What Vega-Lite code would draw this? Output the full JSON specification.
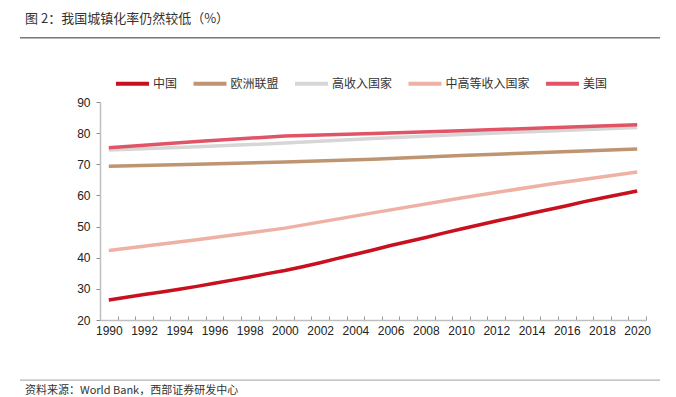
{
  "$schema": "https://vega.github.io/schema/vega-lite/v6.json",
  "autosize": {"type": "none"},
  "padding": {"left": 100, "top": 102, "right": 30, "bottom": 77},
  "width": 546,
  "height": 218,
  "background": "white",
  "config": {
    "view": {"stroke": null},
    "font": "Liberation Sans"
  },
  "title": {
    "text": "图 2：我国城镇化率仍然较低（%）",
    "anchor": "start",
    "frame": "group",
    "dx": -75,
    "offset": 11,
    "font": "Noto Sans CJK SC",
    "fontSize": 13,
    "fontWeight": "normal",
    "color": "#333333"
  },
  "datasets": {
    "series": [
      {"name": "中国", "year": 1990, "value": 26.4},
      {"name": "中国", "year": 1991, "value": 27.3},
      {"name": "中国", "year": 1992, "value": 28.2},
      {"name": "中国", "year": 1993, "value": 29.0},
      {"name": "中国", "year": 1994, "value": 29.9},
      {"name": "中国", "year": 1995, "value": 30.8},
      {"name": "中国", "year": 1996, "value": 31.8},
      {"name": "中国", "year": 1997, "value": 32.8},
      {"name": "中国", "year": 1998, "value": 33.8},
      {"name": "中国", "year": 1999, "value": 34.9},
      {"name": "中国", "year": 2000, "value": 35.9},
      {"name": "中国", "year": 2001, "value": 37.1},
      {"name": "中国", "year": 2002, "value": 38.4},
      {"name": "中国", "year": 2003, "value": 39.8},
      {"name": "中国", "year": 2004, "value": 41.1},
      {"name": "中国", "year": 2005, "value": 42.5},
      {"name": "中国", "year": 2006, "value": 43.9},
      {"name": "中国", "year": 2007, "value": 45.2},
      {"name": "中国", "year": 2008, "value": 46.5},
      {"name": "中国", "year": 2009, "value": 47.9},
      {"name": "中国", "year": 2010, "value": 49.2},
      {"name": "中国", "year": 2011, "value": 50.5},
      {"name": "中国", "year": 2012, "value": 51.8},
      {"name": "中国", "year": 2013, "value": 53.0},
      {"name": "中国", "year": 2014, "value": 54.3},
      {"name": "中国", "year": 2015, "value": 55.5},
      {"name": "中国", "year": 2016, "value": 56.7},
      {"name": "中国", "year": 2017, "value": 58.0},
      {"name": "中国", "year": 2018, "value": 59.2},
      {"name": "中国", "year": 2019, "value": 60.3},
      {"name": "中国", "year": 2020, "value": 61.4},
      {"name": "欧洲联盟", "year": 1990, "value": 69.4},
      {"name": "欧洲联盟", "year": 1995, "value": 70.0},
      {"name": "欧洲联盟", "year": 2000, "value": 70.7},
      {"name": "欧洲联盟", "year": 2005, "value": 71.6},
      {"name": "欧洲联盟", "year": 2010, "value": 72.8},
      {"name": "欧洲联盟", "year": 2015, "value": 73.9},
      {"name": "欧洲联盟", "year": 2020, "value": 74.9},
      {"name": "高收入国家", "year": 1990, "value": 74.6},
      {"name": "高收入国家", "year": 1995, "value": 75.6},
      {"name": "高收入国家", "year": 2000, "value": 76.8},
      {"name": "高收入国家", "year": 2005, "value": 78.3},
      {"name": "高收入国家", "year": 2010, "value": 79.6},
      {"name": "高收入国家", "year": 2015, "value": 80.7},
      {"name": "高收入国家", "year": 2020, "value": 81.8},
      {"name": "中高等收入国家", "year": 1990, "value": 42.3},
      {"name": "中高等收入国家", "year": 1995, "value": 45.8},
      {"name": "中高等收入国家", "year": 2000, "value": 49.5},
      {"name": "中高等收入国家", "year": 2005, "value": 54.4},
      {"name": "中高等收入国家", "year": 2010, "value": 59.2},
      {"name": "中高等收入国家", "year": 2015, "value": 63.6},
      {"name": "中高等收入国家", "year": 2020, "value": 67.5},
      {"name": "美国", "year": 1990, "value": 75.3},
      {"name": "美国", "year": 1995, "value": 77.3},
      {"name": "美国", "year": 2000, "value": 79.1},
      {"name": "美国", "year": 2005, "value": 79.9},
      {"name": "美国", "year": 2010, "value": 80.8},
      {"name": "美国", "year": 2015, "value": 81.7},
      {"name": "美国", "year": 2020, "value": 82.7}
    ],
    "one": [{"k": 1}]
  },
  "resolve": {"axis": {"x": "independent", "y": "independent"}},
  "layer": [
    {
      "data": {"name": "series"},
      "mark": {"type": "line", "strokeWidth": 3.5, "clip": false},
      "encoding": {
        "x": {
          "field": "year",
          "type": "quantitative",
          "scale": {"domain": [1989.5, 2020.5], "nice": false, "zero": false},
          "axis": {
            "title": null,
            "values": [1989.5, 1990.5, 1991.5, 1992.5, 1993.5, 1994.5, 1995.5, 1996.5, 1997.5, 1998.5, 1999.5, 2000.5, 2001.5, 2002.5, 2003.5, 2004.5, 2005.5, 2006.5, 2007.5, 2008.5, 2009.5, 2010.5, 2011.5, 2012.5, 2013.5, 2014.5, 2015.5, 2016.5, 2017.5, 2018.5, 2019.5, 2020.5],
            "labelExpr": "((datum.value + 0.5) % 2 == 0 && datum.value < 2020) ? format(datum.value + 0.5, 'd') : ''",
            "labelOffset": 8.8,
            "labelOverlap": false,
            "labelBound": false,
            "labelFlush": false,
            "labelFontSize": 12,
            "labelColor": "#222222",
            "labelPadding": 9,
            "tickSize": -4,
            "tickColor": "#999999",
            "domainColor": "#BFBFBF",
            "domainWidth": 1.5,
            "grid": false
          }
        },
        "y": {
          "field": "value",
          "type": "quantitative",
          "scale": {"domain": [20, 90], "nice": false, "zero": false},
          "axis": {
            "title": null,
            "values": [20, 30, 40, 50, 60, 70, 80, 90],
            "labelOverlap": false,
            "labelFontSize": 12,
            "labelColor": "#222222",
            "labelPadding": 6,
            "tickSize": 4,
            "tickColor": "#888888",
            "domainColor": "#BFBFBF",
            "domainWidth": 1.5,
            "grid": false
          }
        },
        "color": {
          "field": "name",
          "type": "nominal",
          "scale": {
            "domain": ["中国", "欧洲联盟", "高收入国家", "中高等收入国家", "美国"],
            "range": ["#C8101E", "#BE9570", "#D6D6D6", "#EEB1A4", "#E05466"]
          },
          "legend": {
            "title": null,
            "orient": "none",
            "legendX": 14,
            "legendY": -37,
            "direction": "horizontal",
            "symbolType": "stroke",
            "symbolSize": 1089,
            "symbolStrokeWidth": 4,
            "labelFont": "Noto Sans CJK SC",
            "labelFontSize": 12,
            "labelColor": "#333333",
            "labelOffset": 2,
            "columnPadding": 7.5
          }
        }
      }
    },
    {
      "data": {"name": "one"},
      "mark": {"type": "rule", "color": "#333333", "strokeWidth": 1, "clip": false},
      "encoding": {
        "x": {"datum": 1984.96, "axis": null},
        "x2": {"datum": 2021.3},
        "y": {"datum": 110.6, "axis": null}
      }
    },
    {
      "data": {"name": "one"},
      "mark": {"type": "rule", "color": "#A0A0A0", "strokeWidth": 1, "clip": false},
      "encoding": {
        "x": {"datum": 1984.96, "axis": null},
        "x2": {"datum": 2021.3},
        "y": {"datum": 0.7, "axis": null}
      }
    },
    {
      "data": {"name": "one"},
      "mark": {"type": "text", "align": "left", "baseline": "alphabetic", "font": "Noto Sans CJK SC", "fontSize": 11, "color": "#333333", "clip": false},
      "encoding": {
        "x": {"datum": 1985.24, "axis": null},
        "y": {"datum": -3.8, "axis": null},
        "text": {"value": "资料来源：World Bank，西部证券研发中心"}
      }
    }
  ]
}
